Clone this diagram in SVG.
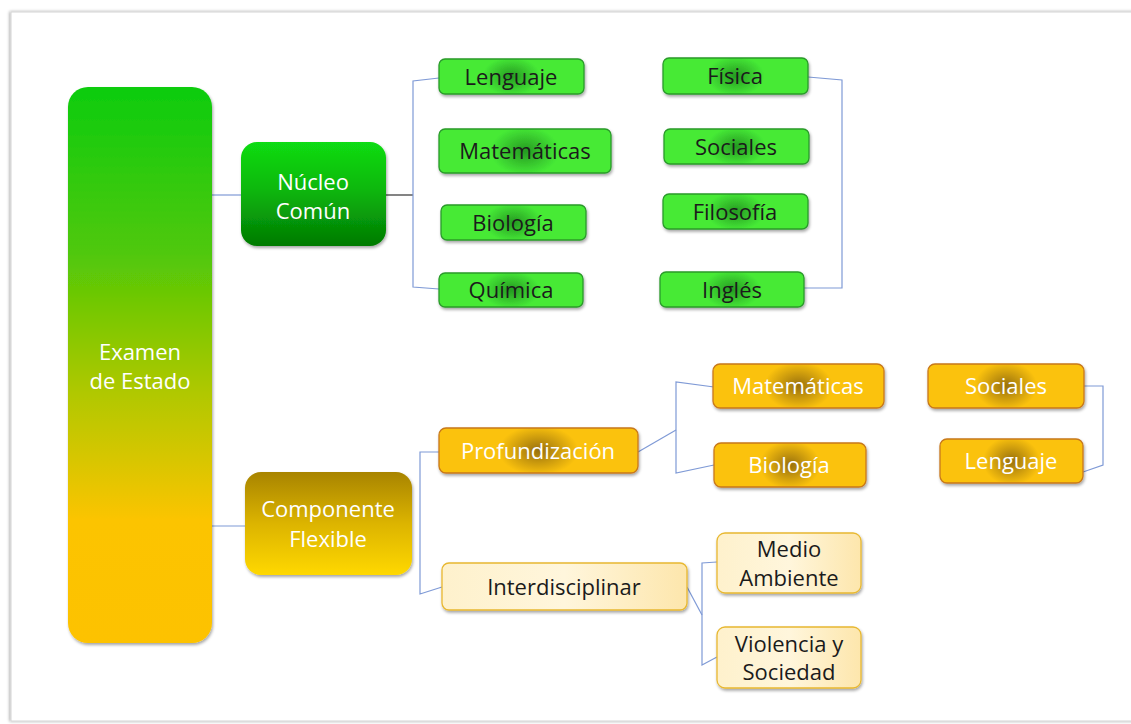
<svg xmlns="http://www.w3.org/2000/svg" width="1131" height="724" viewBox="0 0 1131 724">
<defs>
<linearGradient id="gMain" x1="0" y1="0" x2="0" y2="1">
<stop offset="0" stop-color="#0ccc10"/>
<stop offset="0.3" stop-color="#50c808"/>
<stop offset="0.55" stop-color="#b0c800"/>
<stop offset="0.78" stop-color="#fcc400"/>
<stop offset="1" stop-color="#fdc200"/>
</linearGradient>
<linearGradient id="gNucleo" x1="0" y1="0" x2="0" y2="1">
<stop offset="0" stop-color="#0edc12"/>
<stop offset="0.45" stop-color="#0cb80e"/>
<stop offset="1" stop-color="#027a02"/>
</linearGradient>
<linearGradient id="gComp" x1="0" y1="0" x2="0" y2="1">
<stop offset="0" stop-color="#a88400"/>
<stop offset="0.5" stop-color="#dcb400"/>
<stop offset="1" stop-color="#ffd800"/>
</linearGradient>
<radialGradient id="gGreen" cx="0.5" cy="0.5" r="0.5" gradientTransform="translate(0.5 0.5) scale(0.4 1.1) translate(-0.5 -0.5)">
<stop offset="0" stop-color="#259a22"/>
<stop offset="1" stop-color="#46ea36"/>
</radialGradient>
<radialGradient id="gGold" cx="0.5" cy="0.5" r="0.5" gradientTransform="translate(0.5 0.5) scale(0.4 1.1) translate(-0.5 -0.5)">
<stop offset="0" stop-color="#98700a"/>
<stop offset="1" stop-color="#fbc208"/>
</radialGradient>
<linearGradient id="gCream" x1="0" y1="0" x2="1" y2="0">
<stop offset="0" stop-color="#fef1cc"/>
<stop offset="0.5" stop-color="#fff6dc"/>
<stop offset="1" stop-color="#fde6ac"/>
</linearGradient>
<filter id="sh" x="-20%" y="-30%" width="140%" height="170%">
<feDropShadow dx="1" dy="2" stdDeviation="1.6" flood-color="#000" flood-opacity="0.35"/>
</filter>
<filter id="pg" x="-5%" y="-5%" width="110%" height="110%">
<feDropShadow dx="-1" dy="0" stdDeviation="1.5" flood-color="#000" flood-opacity="0.35"/>
</filter>
</defs>
<style>
.t{font-family:"Open Sans","Liberation Sans",sans-serif;font-size:22px;text-anchor:middle}
.w{fill:#ffffff}
.d{fill:#1b1b1b}
.lg{fill:url(#gGreen);stroke:#2a9a2a;stroke-width:1.3}
.lo{fill:url(#gGold);stroke:#c8781a;stroke-width:1.3}
.lc{fill:url(#gCream);stroke:#e8b830;stroke-width:1.3}
.c{fill:none;stroke:#7f9ad6;stroke-width:1.2}
</style>
<rect x="0" y="0" width="1131" height="724" fill="#ffffff"/>
<rect x="11" y="12" width="1140" height="709" fill="#ffffff" stroke="#d4d4d4" stroke-width="1" filter="url(#pg)"/>

<g id="connectors">
<line class="c" x1="212" y1="195" x2="241" y2="195"/>
<line x1="386" y1="195" x2="413" y2="195" stroke="#333" stroke-width="1.2"/>
<polyline class="c" points="439,78 413,81 413,287 439,289"/>
<polyline class="c" points="808,77 842,80 842,288 804,288"/>
<line class="c" x1="212" y1="526" x2="245" y2="526"/>
<polyline class="c" points="439,452 420,452 420,594 442,587"/>
<polyline class="c" points="714,387 676,382 676,473 714,465"/>
<line class="c" x1="638" y1="452" x2="676" y2="430"/>
<polyline class="c" points="1084,386 1103,386 1103,465 1083,472"/>
<polyline class="c" points="717,562 702,563 702,665 717,657"/>
<line class="c" x1="687" y1="587" x2="702" y2="615"/>
</g>

<g id="examen">
<rect x="68" y="87" width="144" height="556" rx="20" fill="url(#gMain)" filter="url(#sh)"/>
<text class="t w" x="140" y="360">Examen</text>
<text class="t w" x="140" y="389">de Estado</text>
</g>

<g id="nucleo">
<rect x="241" y="142" width="145" height="104" rx="16" fill="url(#gNucleo)" filter="url(#sh)"/>
<text class="t w" x="313" y="190">Núcleo</text>
<text class="t w" x="313" y="219">Común</text>
</g>

<g id="componente">
<rect x="245" y="472" width="167" height="103" rx="16" fill="url(#gComp)" filter="url(#sh)"/>
<text class="t w" x="328" y="517">Componente</text>
<text class="t w" x="328" y="547">Flexible</text>
</g>

<g id="n-lenguaje"><rect class="lg" x="439" y="59" width="145" height="35" rx="6" filter="url(#sh)"/><text class="t d" x="511" y="85">Lenguaje</text></g>
<g id="n-matematicas"><rect class="lg" x="439" y="129" width="172" height="44" rx="6" filter="url(#sh)"/><text class="t d" x="525" y="159">Matemáticas</text></g>
<g id="n-biologia"><rect class="lg" x="441" y="205" width="145" height="35" rx="6" filter="url(#sh)"/><text class="t d" x="513" y="231">Biología</text></g>
<g id="n-quimica"><rect class="lg" x="439" y="273" width="144" height="34" rx="6" filter="url(#sh)"/><text class="t d" x="511" y="298">Química</text></g>
<g id="n-fisica"><rect class="lg" x="663" y="58" width="145" height="36" rx="6" filter="url(#sh)"/><text class="t d" x="735" y="84">Física</text></g>
<g id="n-sociales"><rect class="lg" x="664" y="129" width="145" height="35" rx="6" filter="url(#sh)"/><text class="t d" x="736" y="155">Sociales</text></g>
<g id="n-filosofia"><rect class="lg" x="663" y="194" width="145" height="35" rx="6" filter="url(#sh)"/><text class="t d" x="735" y="220">Filosofía</text></g>
<g id="n-ingles"><rect class="lg" x="660" y="272" width="144" height="35" rx="6" filter="url(#sh)"/><text class="t d" x="732" y="298">Inglés</text></g>

<g id="n-profundizacion"><rect class="lo" x="439" y="428" width="199" height="45" rx="7" filter="url(#sh)"/><text class="t w" x="538" y="459">Profundización</text></g>
<g id="n-interdisciplinar"><rect class="lc" x="442" y="563" width="245" height="47" rx="7" filter="url(#sh)"/><text class="t d" x="564" y="595">Interdisciplinar</text></g>
<g id="n-matematicas2"><rect class="lo" x="713" y="364" width="171" height="44" rx="7" filter="url(#sh)"/><text class="t w" x="798" y="394">Matemáticas</text></g>
<g id="n-biologia2"><rect class="lo" x="714" y="443" width="152" height="44" rx="7" filter="url(#sh)"/><text class="t w" x="789" y="473">Biología</text></g>
<g id="n-sociales2"><rect class="lo" x="928" y="364" width="156" height="44" rx="7" filter="url(#sh)"/><text class="t w" x="1006" y="394">Sociales</text></g>
<g id="n-lenguaje2"><rect class="lo" x="940" y="439" width="143" height="44" rx="7" filter="url(#sh)"/><text class="t w" x="1011" y="469">Lenguaje</text></g>
<g id="n-medio"><rect class="lc" x="717" y="533" width="144" height="60" rx="8" filter="url(#sh)"/><text class="t d" x="789" y="557">Medio</text><text class="t d" x="789" y="586">Ambiente</text></g>
<g id="n-violencia"><rect class="lc" x="717" y="627" width="144" height="61" rx="8" filter="url(#sh)"/><text class="t d" x="789" y="652">Violencia y</text><text class="t d" x="789" y="680">Sociedad</text></g>
</svg>
